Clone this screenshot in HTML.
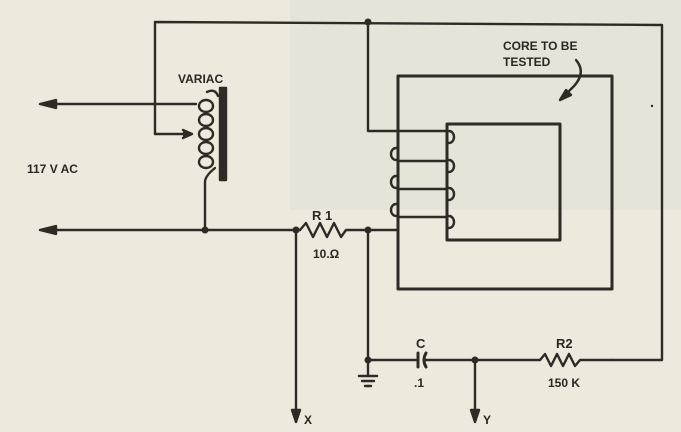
<!DOCTYPE html>
<html><head><style>
html,body{margin:0;padding:0;background:#ede9dc;}
svg{display:block}
text{font-family:"Liberation Sans",sans-serif;font-weight:bold;fill:#2a2623}
</style></head><body>
<svg width="681" height="432" viewBox="0 0 681 432" xmlns="http://www.w3.org/2000/svg">
<rect width="681" height="432" fill="#ede9dc"/>
<rect x="290" y="0" width="391" height="210" fill="#e6e3d8"/>
<g stroke="#2e2a26" stroke-width="2.4" fill="none" stroke-linecap="round" stroke-linejoin="round">
<polyline points="155,134 155,22 662,25 662,360 612,360"/>
<line x1="190" y1="134" x2="155" y2="134"/>
<path d="M183,130 L192,134 L183,138" fill="#2e2a26"/>
<line x1="42" y1="104" x2="196" y2="104"/>
<path d="M40,104 L56,100 L56,108 Z" fill="#2e2a26"/>
<path d="M207,92 q8,-4 11,4"/>
<g>
<ellipse cx="206" cy="106" rx="7" ry="6"/>
<ellipse cx="206" cy="120" rx="7" ry="6"/>
<ellipse cx="206" cy="134" rx="7" ry="6"/>
<ellipse cx="206" cy="148" rx="7" ry="6"/>
<ellipse cx="206" cy="162" rx="7" ry="6"/>
</g>
<path d="M215,168 q-10,8 -10,14 V230"/>
<rect x="220" y="88" width="6" height="92" fill="#2e2a26"/>
<line x1="42" y1="230" x2="300" y2="230"/>
<path d="M40,230 L56,226 L56,234 Z" fill="#2e2a26"/>
<polyline points="300,230 306,223 313,237 320,223 327,237 334,223 341,237 346,230 398,230"/>
<rect x="398" y="76" width="214" height="213" stroke-width="3"/>
<rect x="447" y="124" width="113" height="116" stroke-width="3"/>
<polyline points="368,22 368,131 447,131"/>
<path d="M449,131 a5,6 0 1 1 0,12"/>
<path d="M449,160 a5,6 0 1 1 0,12"/>
<path d="M449,188 a5,6 0 1 1 0,12"/>
<path d="M449,216 a5,6 0 1 1 0,12"/>
<path d="M396,148 a5,6 0 1 0 0,12"/>
<path d="M396,176 a5,6 0 1 0 0,12"/>
<path d="M396,204 a5,6 0 1 0 0,12"/>
<line x1="398" y1="161" x2="447" y2="161"/>
<line x1="398" y1="189" x2="447" y2="189"/>
<line x1="398" y1="217" x2="447" y2="217"/>
<path d="M576,60 q12,14 -6,30 L563,98"/>
<path d="M560,100 L566,90 L571,95 Z" fill="#2e2a26"/>
<line x1="296" y1="230" x2="296" y2="420"/>
<path d="M292,410 L300,410 L296,422 Z" fill="#2e2a26"/>
<polyline points="368,230 368,360 416,360"/>
<line x1="359" y1="376" x2="377" y2="376"/>
<line x1="362" y1="381" x2="374" y2="381"/>
<line x1="365" y1="386" x2="371" y2="386"/>
<line x1="368" y1="360" x2="368" y2="376"/>
<line x1="418" y1="353" x2="418" y2="367" stroke-width="3"/>
<path d="M426,353 q-4,7 0,14" stroke-width="3"/>
<line x1="426" y1="360" x2="540" y2="360"/>
<line x1="475" y1="360" x2="475" y2="420"/>
<path d="M471,410 L479,410 L475,422 Z" fill="#2e2a26"/>
<polyline points="540,360 545,354 551,366 557,354 563,366 569,354 575,366 580,360 612,360"/>
</g>
<g fill="#2e2a26">
<circle cx="368" cy="22" r="3.5"/>
<circle cx="205" cy="230" r="3.5"/>
<circle cx="296" cy="230" r="3.5"/>
<circle cx="368" cy="230" r="3.5"/>
<circle cx="368" cy="360" r="3.5"/>
<circle cx="475" cy="360" r="3.5"/>
<circle cx="652" cy="106" r="1.2"/>
</g>
<text x="178" y="83" font-size="12">VARIAC</text>
<text x="27" y="173" font-size="12">117 V AC</text>
<text x="312" y="220" font-size="13" font-weight="normal">R 1</text>
<text x="313" y="258" font-size="12">10.Ω</text>
<text x="503" y="50" font-size="12">CORE TO BE</text>
<text x="503" y="66" font-size="12">TESTED</text>
<text x="416" y="348" font-size="13" font-weight="normal">C</text>
<text x="414" y="387" font-size="12">.1</text>
<text x="556" y="348" font-size="13" font-weight="normal">R2</text>
<text x="548" y="387" font-size="12">150 K</text>
<text x="304" y="424" font-size="12">X</text>
<text x="483" y="424" font-size="12">Y</text>
</svg>
</body></html>
